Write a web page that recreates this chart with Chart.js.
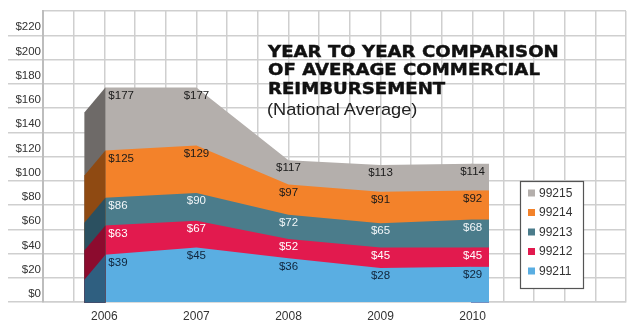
<!DOCTYPE html>
<html><head><meta charset="utf-8">
<script src="https://cdn.jsdelivr.net/npm/chart.js@4.4.0/dist/chart.umd.min.js"></script>
<style>
html,body{margin:0;padding:0;background:#fff;}
#wrap{position:relative;width:635px;height:327px;overflow:hidden;}
canvas{position:absolute;left:0;top:0;}
#title{position:absolute;left:268px;top:43px;font-family:'DejaVu Sans';font-weight:bold;font-size:16.5px;line-height:18.3px;color:#111;white-space:nowrap;transform:scaleX(1.1);transform-origin:0 0;-webkit-text-stroke:0.45px #111;}
#sub{position:absolute;left:267px;top:99.6px;font-family:'Liberation Sans';font-size:17px;line-height:19px;color:#222;white-space:nowrap;transform:scaleX(1.07);transform-origin:0 0;}
</style></head>
<body><div id="wrap"><canvas id="c" width="635" height="327"></canvas>
<div id="title">YEAR TO YEAR COMPARISON<br>OF AVERAGE COMMERCIAL<br>REIMBURSEMENT</div>
<div id="sub">(National Average)</div></div>
<script>
// ---- data ----
const years = [2006, 2007, 2008, 2009, 2010];
const seriesNames = ['99211', '99212', '99213', '99214', '99215'];
const v99211 = [39, 45, 36, 28, 29];
const v99212 = [63, 67, 52, 45, 45];
const v99213 = [86, 90, 72, 65, 68];
const v99214 = [125, 129, 97, 91, 92];
const v99215 = [177, 177, 117, 113, 114];
const yTickValues = [0, 20, 40, 60, 80, 100, 120, 140, 160, 180, 200, 220, 240];

// ---- styles ----
const seriesValues = [v99211, v99212, v99213, v99214, v99215];
const fillColors = ['#5aaee2', '#e21a4e', '#4b7c8b', '#f3822a', '#b4afac'];
const sideColors = ['#2f5f80', '#8c0b2e', '#2b5060', '#8f4a12', '#6e6a68'];
const labelColors = ['#10243a', '#ffffff', '#f2f6f8', '#1a1a1a', '#1a1a1a'];
const gridColor = '#cfcfcf';

const datasets = seriesNames.map((name, i) => ({
  label: name,
  data: years.map((yr, j) => ({x: yr, y: seriesValues[i][j]})),
  backgroundColor: fillColors[i],
  borderColor: 'rgba(0,0,0,0)',
  borderWidth: 0,
  pointRadius: 0,
  tension: 0,
  fill: 'origin'
}));

const decor = {
  id: 'decor',
  afterDatasetsDraw(chart) {
    const ctx = chart.ctx, xs = chart.scales.x, ys = chart.scales.y;
    const yb = ys.getPixelForValue(0);
    const x0 = xs.getPixelForValue(years[0]);
    const xe = xs.getPixelForValue(years[years.length - 1]);
    ctx.save();
    // 3D side faces and right-hand extension, back to front
    for (let i = seriesValues.length - 1; i >= 0; i--) {
      const vals = seriesValues[i];
      const yv = ys.getPixelForValue(vals[0]);
      ctx.fillStyle = sideColors[i];
      ctx.beginPath();
      ctx.moveTo(x0 + 1, yb + 0.75);
      ctx.lineTo(x0 + 1, yv);
      ctx.lineTo(x0 - 20, yv + 25);
      ctx.lineTo(x0 - 20, yb + 0.75);
      ctx.closePath();
      ctx.fill();
      const ye = ys.getPixelForValue(vals[vals.length - 1]);
      ctx.fillStyle = fillColors[i];
      ctx.fillRect(Math.floor(xe) - 1, ye, 18, yb - ye + 0.75);
    }
    // value labels
    ctx.font = '11.5px "Liberation Sans", Arial, sans-serif';
    ctx.textBaseline = 'middle';
    seriesValues.forEach((vals, i) => {
      ctx.fillStyle = labelColors[i];
      vals.forEach((v, j) => {
        const x = xs.getPixelForValue(years[j]);
        const y = ys.getPixelForValue(v) + 8;
        if (j === 0) { ctx.textAlign = 'left'; ctx.fillText('$' + v, x + 4, y); }
        else { ctx.textAlign = 'center'; ctx.fillText('$' + v, x, y); }
      });
    });
    // legend box
    const bx = 520.5, by = 181.5, bw = 63, bh = 107;
    ctx.fillStyle = '#ffffff';
    ctx.fillRect(bx, by, bw, bh);
    ctx.strokeStyle = '#555555';
    ctx.lineWidth = 1.2;
    ctx.strokeRect(bx, by, bw, bh);
    ctx.font = '12px "Liberation Sans", Arial, sans-serif';
    ctx.textAlign = 'left';
    for (let k = 0; k < seriesNames.length; k++) {
      const i = seriesNames.length - 1 - k;
      const cy = 193 + k * 19.5;
      ctx.fillStyle = fillColors[i];
      ctx.fillRect(528, cy - 3.5, 7, 7);
      ctx.fillStyle = '#333333';
      ctx.fillText(seriesNames[i], 539, cy + 0.5);
    }
    ctx.restore();
  }
};

new Chart(document.getElementById('c'), {
  type: 'line',
  data: {datasets},
  plugins: [decor],
  options: {
    responsive: false,
    animation: false,
    devicePixelRatio: 1,
    layout: {padding: {left: 0, right: 9, top: 11, bottom: 0}},
    plugins: {legend: {display: false}, tooltip: {enabled: false}, title: {display: false}},
    scales: {
      x: {
        type: 'linear',
        min: 6016 / 3,
        max: 6035 / 3,
        afterBuildTicks(scale) {
          const t = [];
          for (let k = 0; k <= 19; k++) t.push({value: (6016 + k) / 3});
          scale.ticks = t;
        },
        afterFit(scale) { scale.height = 25; scale.paddingLeft = 0; scale.paddingRight = 0; },
        grid: {color: gridColor, lineWidth: 1.5, drawTicks: false},
        border: {display: true, color: gridColor, width: 1.5},
        ticks: {
          autoSkip: false, maxRotation: 0, padding: 7,
          color: '#333333',
          font: {family: '"Liberation Sans", Arial, sans-serif', size: 12},
          callback(value) {
            const r = Math.round(value);
            return (Math.abs(value - r) < 1e-6 && years.includes(r)) ? String(r) : '';
          }
        }
      },
      y: {
        min: 0, max: 240,
        afterBuildTicks(scale) { scale.ticks = yTickValues.map(v => ({value: v})); },
        afterFit(scale) { scale.width = 43; scale.paddingTop = 0; scale.paddingBottom = 0; },
        grid: {
          color: gridColor, lineWidth: 1.5, drawTicks: true, tickLength: 35,
          tickColor: (c) => (c.tick && c.tick.value === 240) ? 'rgba(0,0,0,0)' : gridColor,
          tickWidth: 1.5
        },
        border: {display: true, color: '#bdbdbd', width: 2},
        ticks: {
          padding: -33, labelOffset: -8,
          color: '#333333',
          font: {family: '"Liberation Sans", Arial, sans-serif', size: 11.5},
          callback(value) { return value === 240 ? '' : '$' + value; }
        }
      }
    }
  }
});
</script>
</body></html>
